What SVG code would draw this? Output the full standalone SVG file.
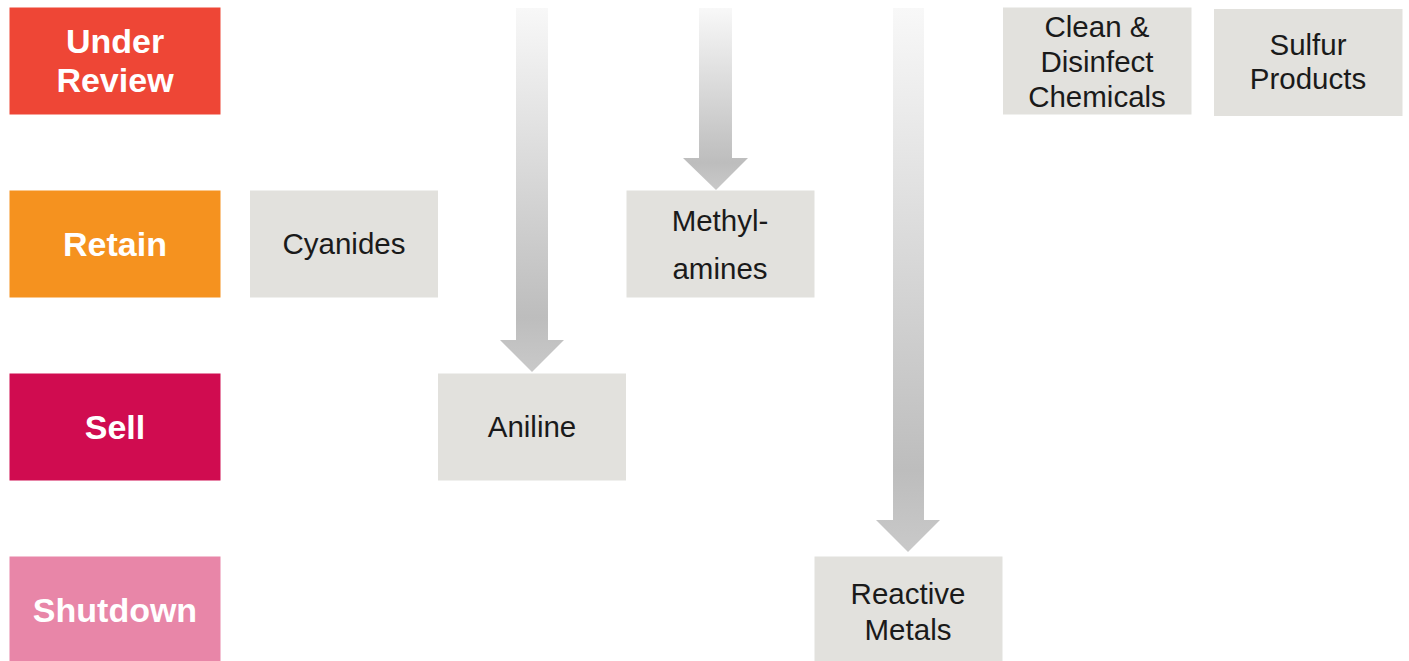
<svg xmlns="http://www.w3.org/2000/svg" width="1409" height="661" viewBox="0 0 1409 661">
<defs>
<linearGradient id="ag" x1="0" y1="0" x2="0" y2="1">
<stop offset="0" stop-color="#f8f8f8"/>
<stop offset="0.85" stop-color="#bdbdbd"/>
<stop offset="1" stop-color="#c9c9c9"/>
</linearGradient>
<style>
.cat text{font-family:"Liberation Sans",Arial,sans-serif;font-weight:bold;font-size:34px;fill:#ffffff;text-anchor:middle}
.item rect{fill:#e2e1dd}
.item text{font-family:"Liberation Sans",Arial,sans-serif;font-size:29.5px;fill:#1a1a1a;text-anchor:middle}
.arrow{fill:url(#ag)}
</style>
</defs>
<rect width="1409" height="661" fill="#ffffff"/>
<g id="connectors">
<polygon class="arrow" points="516,8 548,8 548,340 564,340 532,372 500,340 516,340"/>
<polygon class="arrow" points="699,8 732,8 732,158 748,158 716,190 683,158 699,158"/>
<polygon class="arrow" points="893,8 924,8 924,520 940,520 908,552 876,520 893,520"/>
</g>
<g id="under-review" class="cat"><rect x="9.5" y="7.5" width="211" height="107" fill="#ee4636"/><text x="115" y="53">Under</text><text x="115" y="92">Review</text></g>
<g id="retain" class="cat"><rect x="9.5" y="190.5" width="211" height="107" fill="#f5921f"/><text x="115" y="256">Retain</text></g>
<g id="sell" class="cat"><rect x="9.5" y="373.5" width="211" height="107" fill="#d00c50"/><text x="115" y="439">Sell</text></g>
<g id="shutdown" class="cat"><rect x="9.5" y="556.5" width="211" height="107" fill="#e886a8"/><text x="115" y="622">Shutdown</text></g>
<g id="cyanides" class="item"><rect x="250" y="190.5" width="188" height="107"/><text x="344" y="254">Cyanides</text></g>
<g id="aniline" class="item"><rect x="438" y="373.5" width="188" height="107"/><text x="532" y="437">Aniline</text></g>
<g id="methylamines" class="item"><rect x="626.5" y="190.5" width="188" height="107"/><text x="720" y="231">Methyl-</text><text x="720" y="279">amines</text></g>
<g id="reactive-metals" class="item"><rect x="814.5" y="556.5" width="188" height="107"/><text x="908" y="604">Reactive</text><text x="908" y="640">Metals</text></g>
<g id="clean-disinfect" class="item"><rect x="1003" y="7.5" width="188.5" height="107"/><text x="1097" y="37">Clean &amp;</text><text x="1097" y="72">Disinfect</text><text x="1097" y="107">Chemicals</text></g>
<g id="sulfur-products" class="item"><rect x="1214" y="9" width="188.5" height="107"/><text x="1308" y="55">Sulfur</text><text x="1308" y="89">Products</text></g>
</svg>
